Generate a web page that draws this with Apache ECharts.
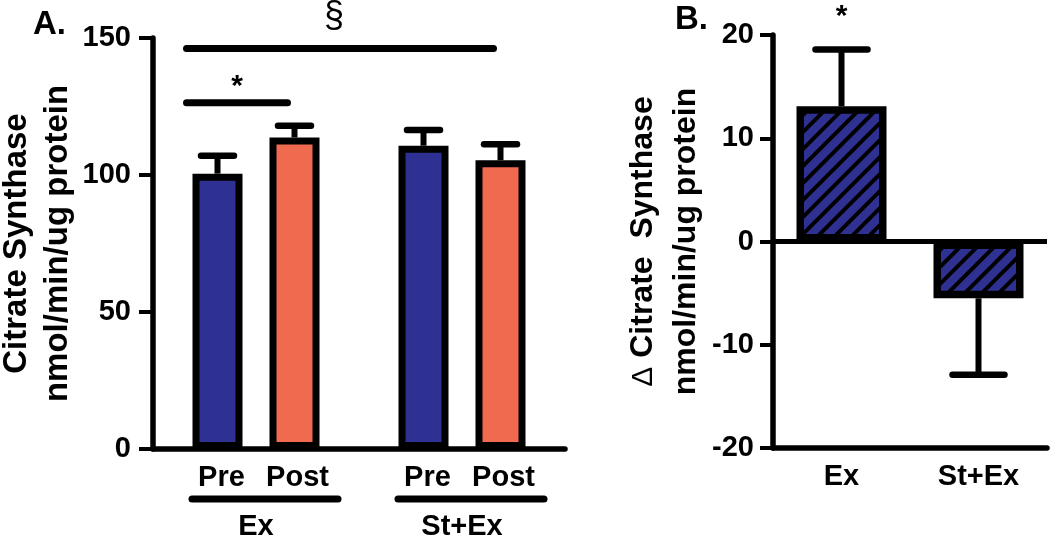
<!DOCTYPE html>
<html>
<head>
<meta charset="utf-8">
<script src="https://cdn.jsdelivr.net/npm/echarts@6/dist/echarts.min.js"></script>
<style>
  html, body { margin: 0; padding: 0; background: #fff; }
  #chart { width: 1050px; height: 536px; }
</style>
</head>
<body>
<div id="chart"></div>
<script>
// ---------------- data ----------------
const groups = ['Ex', 'St+Ex'];
const phases = ['Pre', 'Post'];
const preMean = [100.5, 110.7];
const preSem = [6.5, 5.7];
const postMean = [113.7, 105.4];
const postSem = [4.3, 5.8];
const yTicksA = [0, 50, 100, 150];

const sigLabels = ['§', '*'];
const sigLevels = [146.2, 126.4];
const sigFromGroup = [0, 0];
const sigToGroup = [1, 0];

const deltaCats = ['Ex', 'St+Ex'];
const deltaMean = [13.1, -5.5];
const deltaSem = [5.5, 7.4];
const deltaSig = ['*', ''];
const yTicksB = [-20, -10, 0, 10, 20];

// ---------------- styles ----------------
const FF = '"Liberation Sans", Arial, Helvetica, sans-serif';
const BLUE = '#2f3192';
const ORANGE = '#ef6a4f';
const SUB_OFF = 38.5;   // half distance between Pre/Post bar centres (px)
const FONT_T = 'bold 29px ' + FF;

function makeHatch() {
  const s = 17;
  const c = document.createElement('canvas');
  c.width = s; c.height = s;
  const ctx = c.getContext('2d');
  ctx.fillStyle = BLUE;
  ctx.fillRect(0, 0, s, s);
  ctx.strokeStyle = '#000';
  ctx.lineWidth = 4;
  ctx.beginPath();
  ctx.moveTo(-s / 2, s / 2); ctx.lineTo(s / 2, -s / 2);
  ctx.moveTo(0, s); ctx.lineTo(s, 0);
  ctx.moveTo(s / 2, s * 1.5); ctx.lineTo(s * 1.5, s / 2);
  ctx.stroke();
  return c;
}

function errRender(offset, capW, labels) {
  return function (params, api) {
    const cat = api.value(0), v = api.value(1), e = api.value(2);
    const c = api.coord([cat, v]);
    const t = api.coord([cat, v >= 0 ? v + e : v - e]);
    const x = c[0] + offset;
    const kids = [
      { type: 'line', shape: { x1: x, y1: c[1], x2: x, y2: t[1] }, style: { stroke: '#000', lineWidth: 6 } },
      { type: 'line', shape: { x1: x - capW / 2, y1: t[1], x2: x + capW / 2, y2: t[1] }, style: { stroke: '#000', lineWidth: 6.5, lineCap: 'round' } }
    ];
    if (labels && labels[params.dataIndex]) {
      kids.push({ type: 'text', style: { text: labels[params.dataIndex], x: x, y: t[1] - 33, font: 'bold 30px ' + FF, fill: '#000', align: 'center', verticalAlign: 'middle' } });
    }
    return { type: 'group', children: kids };
  };
}

function subLabelRender(params, api) {
  const i = api.value(0);
  const base = api.coord([i, 0]);
  const cx = base[0], y0 = base[1];
  return {
    type: 'group', children: [
      { type: 'text', style: { text: phases[0], x: cx - SUB_OFF + 4, y: y0 + 29, font: FONT_T, fill: '#000', align: 'center', verticalAlign: 'middle' } },
      { type: 'text', style: { text: phases[1], x: cx + SUB_OFF + 3, y: y0 + 29, font: FONT_T, fill: '#000', align: 'center', verticalAlign: 'middle' } },
      { type: 'line', shape: { x1: cx - 64, y1: y0 + 50, x2: cx + 82, y2: y0 + 50 }, style: { stroke: '#000', lineWidth: 7, lineCap: 'round' } }
    ]
  };
}

function sigRender(params, api) {
  const idx = params.dataIndex;
  const y = api.coord([0, api.value(1)])[1];
  const xa = api.coord([api.value(0), 0])[0] - SUB_OFF - 31;
  const xb = api.coord([api.value(2), 0])[0] + SUB_OFF - 7;
  const lab = sigLabels[idx];
  const isSec = lab === '§';
  return {
    type: 'group', children: [
      { type: 'line', shape: { x1: xa, y1: y, x2: xb, y2: y }, style: { stroke: '#000', lineWidth: 7, lineCap: 'round' } },
      { type: 'text', style: { text: lab, x: (xa + xb) / 2 + (isSec ? -6 : 0), y: y + (isSec ? -31 : -16), font: (isSec ? '36px ' : 'bold 30px ') + FF, fill: '#000', align: 'center', verticalAlign: 'middle' } }
    ]
  };
}

const axisLineStyle = { color: '#000', width: 5.5 };
const tickStyle = { color: '#000', width: 4 };

const chart = echarts.init(document.getElementById('chart'), null, { renderer: 'canvas' });
const option = {
  animation: false,
  backgroundColor: '#fff',
  textStyle: { fontFamily: FF },
  graphic: [
    { type: 'text', x: 33, y: 25, style: { text: 'A.', font: 'bold 33px ' + FF, fill: '#000', align: 'left', verticalAlign: 'middle' } },
    { type: 'text', x: 675, y: 20, style: { text: 'B.', font: 'bold 33px ' + FF, fill: '#000', align: 'left', verticalAlign: 'middle' } }
  ],
  grid: [
    { left: 153, right: 485, top: 38, bottom: 87, containLabel: false, outerBoundsMode: 'none' },
    { left: 773, right: 3, top: 35, bottom: 88, containLabel: false, outerBoundsMode: 'none' }
  ],
  xAxis: [
    {
      gridIndex: 0, type: 'category', data: groups,
      axisLine: { lineStyle: axisLineStyle, onZero: false },
      axisTick: { alignWithLabel: true, length: 14, lineStyle: tickStyle },
      axisLabel: { margin: 63, color: '#000', fontSize: 29, fontWeight: 'bold', fontFamily: FF, lineHeight: 30 },
      splitLine: { show: false }
    },
    {
      gridIndex: 1, type: 'category', data: deltaCats,
      axisLine: { lineStyle: axisLineStyle, onZero: false },
      axisTick: { alignWithLabel: true, length: 13, lineStyle: tickStyle },
      axisLabel: { margin: 14, color: '#000', fontSize: 29, fontWeight: 'bold', fontFamily: FF, lineHeight: 30 },
      splitLine: { show: false }
    }
  ],
  yAxis: [
    {
      gridIndex: 0, type: 'value', min: yTicksA[0], max: yTicksA[yTicksA.length - 1], interval: 50,
      axisLine: { show: true, lineStyle: axisLineStyle },
      axisTick: { show: true, length: 14, lineStyle: tickStyle },
      axisLabel: { margin: 22, color: '#000', fontSize: 29, fontWeight: 'bold', fontFamily: FF },
      splitLine: { show: false },
      name: 'Citrate Synthase\nnmol/min/ug protein',
      nameLocation: 'middle', nameRotate: 90, nameGap: 72,
      nameTextStyle: { color: '#000', fontSize: 33, fontWeight: 'bold', fontFamily: FF, lineHeight: 41 }
    },
    {
      gridIndex: 1, type: 'value', min: yTicksB[0], max: yTicksB[yTicksB.length - 1], interval: 10,
      axisLine: { show: true, lineStyle: axisLineStyle },
      axisTick: { show: true, length: 13, lineStyle: tickStyle },
      axisLabel: { margin: 19, color: '#000', fontSize: 29, fontWeight: 'bold', fontFamily: FF },
      splitLine: { show: false },
      name: '{d|Δ} Citrate  Synthase\nnmol/min/ug protein',
      nameLocation: 'middle', nameRotate: 90, nameGap: 65,
      nameTextStyle: {
        color: '#000', fontSize: 32, fontWeight: 'bold', fontFamily: FF, lineHeight: 43,
        rich: { d: { fontSize: 30, fontWeight: 'normal', color: '#000', fontFamily: FF, lineHeight: 43 } }
      }
    }
  ],
  series: [
    {
      name: 'Pre', type: 'bar', xAxisIndex: 0, yAxisIndex: 0,
      data: preMean, barWidth: 50, barGap: '54%',
      itemStyle: { color: BLUE, borderColor: '#000', borderWidth: 7 }
    },
    {
      name: 'Post', type: 'bar', xAxisIndex: 0, yAxisIndex: 0,
      data: postMean, barWidth: 50, barGap: '54%',
      itemStyle: { color: ORANGE, borderColor: '#000', borderWidth: 7 }
    },
    {
      type: 'custom', xAxisIndex: 0, yAxisIndex: 0, z: 3,
      data: groups.map((g, i) => [i, preMean[i], preSem[i]]),
      renderItem: errRender(-SUB_OFF, 33)
    },
    {
      type: 'custom', xAxisIndex: 0, yAxisIndex: 0, z: 3,
      data: groups.map((g, i) => [i, postMean[i], postSem[i]]),
      renderItem: errRender(SUB_OFF, 33)
    },
    {
      type: 'custom', xAxisIndex: 0, yAxisIndex: 0, z: 3,
      data: sigLevels.map((lv, i) => [sigFromGroup[i], lv, sigToGroup[i]]),
      encode: { x: 0, y: 1 },
      renderItem: sigRender
    },
    {
      type: 'custom', xAxisIndex: 0, yAxisIndex: 0, z: 3,
      data: groups.map((g, i) => [i, 0]),
      renderItem: subLabelRender
    },
    {
      name: 'Delta', type: 'bar', xAxisIndex: 1, yAxisIndex: 1,
      data: deltaMean, barWidth: 90,
      itemStyle: { color: { image: makeHatch(), repeat: 'repeat' }, borderColor: '#000', borderWidth: 7.5 },
      markLine: {
        silent: true, symbol: ['none', 'none'], label: { show: false },
        lineStyle: { color: '#000', width: 5, type: 'solid' },
        data: [{ yAxis: 0 }]
      }
    },
    {
      type: 'custom', xAxisIndex: 1, yAxisIndex: 1, z: 3,
      data: deltaCats.map((g, i) => [i, deltaMean[i], deltaSem[i]]),
      renderItem: errRender(0, 52, deltaSig)
    }
  ]
};
chart.setOption(option);
</script>
</body>
</html>
